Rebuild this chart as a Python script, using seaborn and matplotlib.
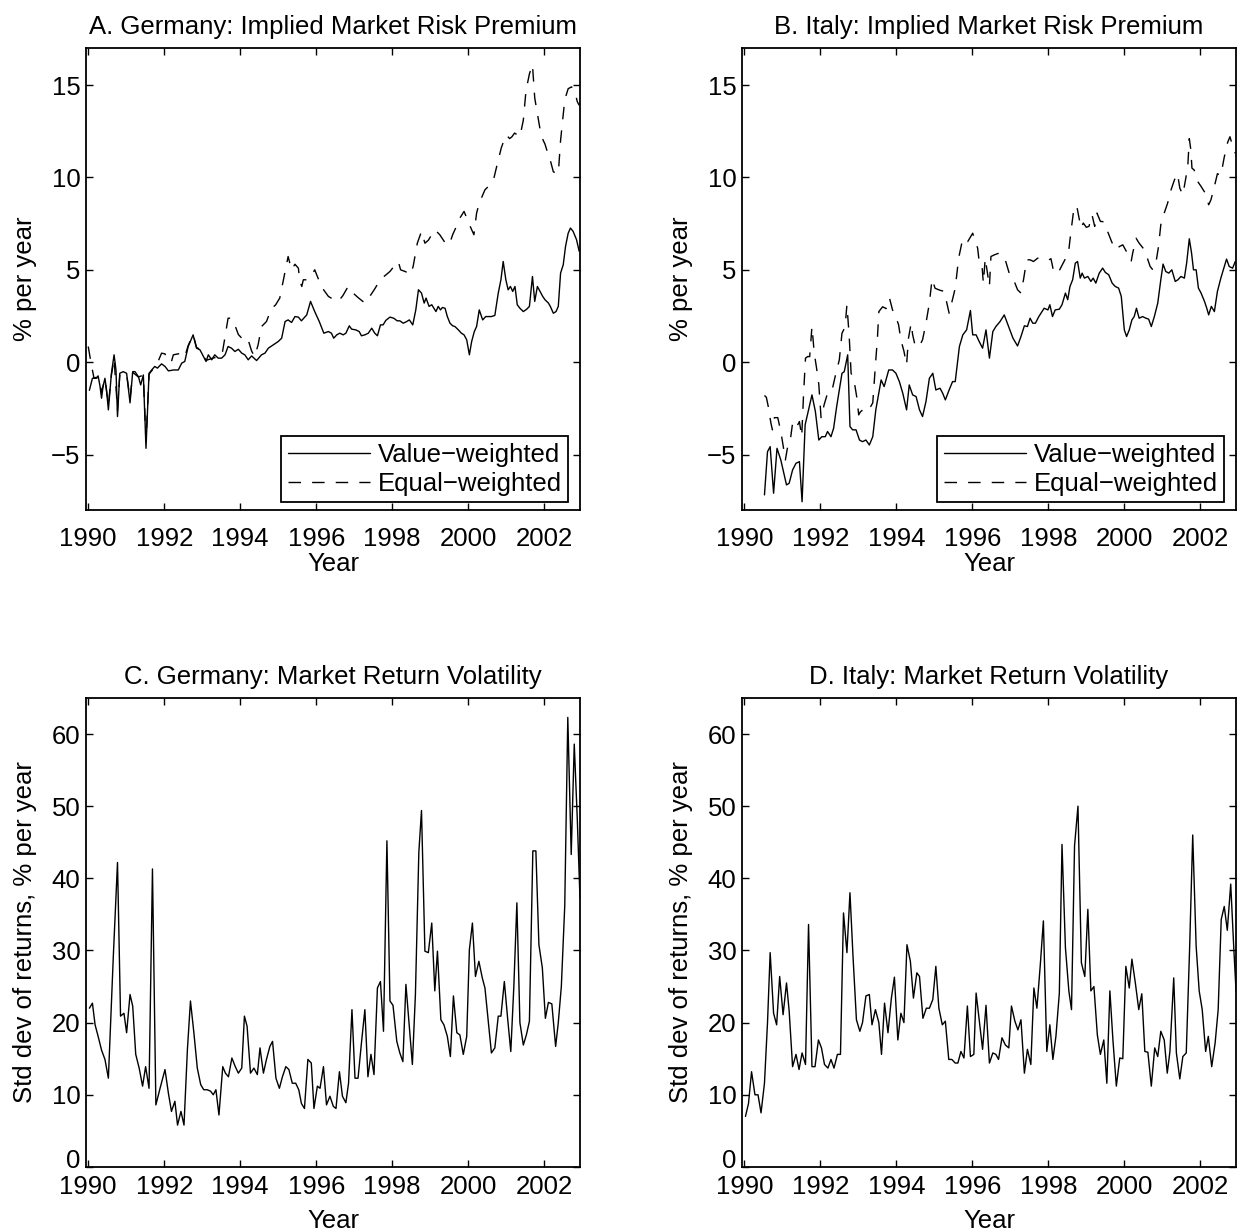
import matplotlib
matplotlib.use('Agg')
import matplotlib.pyplot as plt
import matplotlib.transforms as mtransforms
import seaborn as sns

# Germany implied premium, value-weighted (% per year)
de_vw_year = [1990.03, 1990.11, 1990.22, 1990.26, 1990.31, 1990.35, 1990.39, 1990.44, 1990.48, 1990.53,
              1990.61, 1990.68, 1990.73, 1990.77, 1990.83, 1990.92, 1991.01, 1991.10, 1991.17, 1991.23,
              1991.32, 1991.38, 1991.45, 1991.52, 1991.60, 1991.67, 1991.75, 1991.82, 1991.93, 1992.02,
              1992.11, 1992.24, 1992.37, 1992.46, 1992.54, 1992.63, 1992.76, 1992.85, 1992.94, 1993.03,
              1993.10, 1993.16, 1993.25, 1993.33, 1993.42, 1993.51, 1993.60, 1993.68, 1993.77, 1993.86,
              1993.95, 1994.04, 1994.12, 1994.21, 1994.30, 1994.43, 1994.56, 1994.65, 1994.74, 1994.87,
              1995.00, 1995.09, 1995.18, 1995.26, 1995.35, 1995.44, 1995.53, 1995.61, 1995.75, 1995.85,
              1995.96, 1996.08, 1996.20, 1996.32, 1996.40, 1996.46, 1996.54, 1996.62, 1996.71, 1996.78,
              1996.87, 1996.93, 1997.04, 1997.13, 1997.19, 1997.28, 1997.37, 1997.46, 1997.54, 1997.61,
              1997.69, 1997.76, 1997.83, 1997.94, 1998.04, 1998.13, 1998.20, 1998.29, 1998.38, 1998.45,
              1998.54, 1998.62, 1998.69, 1998.77, 1998.84, 1998.89, 1998.97, 1999.04, 1999.11, 1999.15,
              1999.21, 1999.27, 1999.32, 1999.39, 1999.45, 1999.52, 1999.59, 1999.65, 1999.74, 1999.82,
              1999.89, 1999.96, 2000.03, 2000.09, 2000.16, 2000.22, 2000.29, 2000.38, 2000.46, 2000.53,
              2000.61, 2000.70, 2000.79, 2000.86, 2000.92, 2000.99, 2001.05, 2001.11, 2001.17, 2001.23,
              2001.29, 2001.36, 2001.45, 2001.54, 2001.61, 2001.69, 2001.75, 2001.82, 2001.89, 2001.96,
              2002.02, 2002.11, 2002.16, 2002.24, 2002.31, 2002.37, 2002.43, 2002.50, 2002.56, 2002.63,
              2002.69, 2002.76, 2002.85, 2002.92]
de_vw = [-1.52, -0.87, -0.87, -0.74, -1.30, -1.95, -1.30, -0.87, -1.50, -2.58,
         -0.60, 0.40, -0.42, -2.94, -0.60, -0.51, -0.60, -2.20, -0.51, -0.51,
         -0.78, -1.23, -0.69, -4.66, -0.60, -0.42, -0.23, -0.32, -0.09, -0.23,
         -0.47, -0.42, -0.42, -0.05, 0.04, 0.85, 1.48, 0.76, 0.67, 0.31,
         0.04, 0.40, 0.13, 0.40, 0.22, 0.22, 0.40, 0.85, 0.76, 0.58,
         0.70, 0.49, 0.40, 0.13, 0.34, 0.09, 0.40, 0.49, 0.76, 0.94,
         1.12, 1.30, 2.20, 2.29, 2.15, 2.47, 2.44, 2.24, 2.56, 3.29,
         2.74, 2.20, 1.57, 1.66, 1.57, 1.30, 1.48, 1.57, 1.48, 1.57,
         1.97, 1.79, 1.75, 1.66, 1.43, 1.48, 1.57, 1.84, 1.57, 1.43,
         2.02, 2.02, 2.26, 2.44, 2.38, 2.24, 2.24, 2.11, 2.20, 2.29,
         2.02, 2.83, 3.92, 3.74, 3.20, 3.47, 3.02, 3.11, 2.87, 2.74,
         3.02, 2.83, 2.96, 2.92, 2.47, 2.11, 1.97, 1.93, 1.75, 1.57,
         1.48, 1.21, 0.40, 1.12, 1.66, 1.93, 2.83, 2.29, 2.47, 2.47,
         2.47, 2.53, 3.74, 4.46, 5.45, 4.46, 3.92, 4.10, 3.83, 4.10,
         3.11, 2.92, 2.74, 2.87, 3.02, 4.64, 3.29, 4.10, 3.83, 3.56,
         3.38, 3.20, 3.02, 2.65, 2.74, 3.02, 4.82, 5.27, 6.26, 6.98,
         7.26, 7.08, 6.63, 6.00]

# Germany implied premium, equal-weighted
de_ew_year = [1990.00, 1990.07, 1990.15, 1990.26, 1990.35, 1990.44, 1990.53, 1990.61, 1990.68, 1990.77,
              1990.83, 1990.92, 1991.01, 1991.10, 1991.17, 1991.32, 1991.45, 1991.52, 1991.60, 1991.75,
              1991.84, 1991.93, 1992.02, 1992.11, 1992.19, 1992.24, 1992.46, 1992.54, 1992.63, 1992.76,
              1992.85, 1992.94, 1993.03, 1993.10, 1993.25, 1993.42, 1993.51, 1993.55, 1993.68, 1993.77,
              1993.86, 1993.95, 1994.04, 1994.12, 1994.21, 1994.30, 1994.38, 1994.47, 1994.56, 1994.69,
              1994.82, 1994.93, 1995.04, 1995.15, 1995.26, 1995.35, 1995.44, 1995.53, 1995.57, 1995.62,
              1995.66, 1995.75, 1995.85, 1995.96, 1996.10, 1996.20, 1996.32, 1996.45, 1996.58, 1996.70,
              1996.84, 1996.97, 1997.10, 1997.28, 1997.41, 1997.55, 1997.68, 1997.94, 1998.05, 1998.16,
              1998.22, 1998.35, 1998.48, 1998.55, 1998.66, 1998.77, 1998.86, 1998.95, 1999.04, 1999.12,
              1999.25, 1999.38, 1999.50, 1999.59, 1999.70, 1999.78, 1999.89, 2000.00, 2000.09, 2000.15,
              2000.22, 2000.29, 2000.37, 2000.44, 2000.53, 2000.61, 2000.68, 2000.75, 2000.87, 2000.94,
              2001.00, 2001.09, 2001.15, 2001.22, 2001.36, 2001.45, 2001.52, 2001.61, 2001.69, 2001.75,
              2001.80, 2001.89, 2001.93, 2002.02, 2002.08, 2002.15, 2002.24, 2002.37, 2002.43, 2002.54,
              2002.63, 2002.72, 2002.81, 2002.87, 2002.92]
de_ew = [0.85, 0.00, -0.85, -0.80, -1.60, -0.90, -2.30, -0.70, 0.20, -2.60,
         -0.70, -0.55, -0.65, -2.00, -0.55, -0.80, -0.70, -4.30, -0.65, -0.25,
         0.05, 0.49, 0.45, 0.00, 0.04, 0.40, 0.49, 0.30, 0.90, 1.50,
         0.80, 0.70, 0.35, 0.10, 0.20, 0.30, 0.30, 0.76, 2.38, 2.38,
         2.00, 1.50, 1.30, 1.10, 1.20, 0.60, 0.30, 0.94, 1.93, 2.20,
         2.90, 3.10, 3.47, 4.60, 5.72, 5.00, 5.30, 5.09, 4.37, 4.10,
         4.46, 4.46, 4.60, 5.00, 4.28, 3.90, 3.56, 3.40, 3.29, 3.60,
         4.10, 3.74, 3.50, 3.20, 3.56, 4.00, 4.46, 4.91, 5.20, 5.45,
         5.00, 4.90, 4.73, 5.18, 6.44, 7.08, 6.44, 6.60, 6.90, 7.17,
         6.90, 6.50, 6.35, 6.90, 7.40, 7.80, 8.16, 7.60, 7.17, 6.90,
         8.07, 8.61, 9.00, 9.33, 9.51, 9.69, 10.0, 10.6, 11.6, 12.0,
         12.3, 12.1, 12.2, 12.4, 12.2, 13.1, 14.7, 15.6, 16.1, 14.3,
         13.7, 12.6, 12.2, 11.8, 11.4, 11.0, 10.3, 10.2, 12.0, 14.2,
         14.8, 14.9, 14.6, 14.1, 13.9]

# Italy implied premium, value-weighted
it_vw_year = [1990.53, 1990.61, 1990.68, 1990.77, 1990.86, 1990.96, 1991.11, 1991.18, 1991.27, 1991.36,
              1991.45, 1991.52, 1991.60, 1991.69, 1991.78, 1991.87, 1991.96, 1992.04, 1992.13, 1992.19,
              1992.28, 1992.35, 1992.43, 1992.50, 1992.57, 1992.63, 1992.72, 1992.78, 1992.85, 1992.94,
              1993.03, 1993.11, 1993.20, 1993.29, 1993.38, 1993.46, 1993.60, 1993.68, 1993.80, 1993.90,
              1993.99, 1994.08, 1994.17, 1994.27, 1994.34, 1994.43, 1994.52, 1994.61, 1994.69, 1994.78,
              1994.87, 1994.96, 1995.04, 1995.15, 1995.22, 1995.29, 1995.39, 1995.48, 1995.55, 1995.66,
              1995.75, 1995.85, 1995.95, 1996.01, 1996.10, 1996.18, 1996.27, 1996.36, 1996.45, 1996.54,
              1996.62, 1996.73, 1996.84, 1996.97, 1997.07, 1997.19, 1997.28, 1997.37, 1997.45, 1997.52,
              1997.59, 1997.66, 1997.75, 1997.82, 1997.89, 1997.99, 1998.04, 1998.11, 1998.18, 1998.29,
              1998.36, 1998.45, 1998.51, 1998.57, 1998.64, 1998.71, 1998.77, 1998.84, 1998.89, 1998.95,
              1999.04, 1999.12, 1999.18, 1999.25, 1999.34, 1999.43, 1999.50, 1999.59, 1999.68, 1999.76,
              1999.85, 1999.92, 2000.00, 2000.06, 2000.13, 2000.20, 2000.26, 2000.32, 2000.39, 2000.48,
              2000.57, 2000.64, 2000.71, 2000.79, 2000.88, 2000.96, 2001.02, 2001.09, 2001.17, 2001.25,
              2001.34, 2001.41, 2001.49, 2001.58, 2001.64, 2001.71, 2001.77, 2001.82, 2001.89, 2001.95,
              2002.02, 2002.11, 2002.17, 2002.22, 2002.29, 2002.37, 2002.45, 2002.54, 2002.63, 2002.69,
              2002.76, 2002.85, 2002.92]
it_vw = [-7.18, -4.84, -4.57, -7.09, -4.66, -5.29, -6.64, -6.55, -5.83, -5.47,
         -5.38, -7.55, -3.39, -2.58, -1.77, -2.67, -4.21, -4.03, -4.03, -3.75,
         -4.03, -3.57, -2.40, -1.50, -0.60, -0.51, 0.40, -3.48, -3.66, -3.66,
         -4.21, -4.30, -4.21, -4.48, -4.03, -2.58, -0.96, -1.32, -0.42, -0.42,
         -0.60, -1.05, -1.68, -2.58, -1.23, -1.77, -1.86, -2.58, -2.94, -2.13,
         -0.87, -0.60, -1.50, -1.41, -1.68, -2.04, -1.50, -1.05, -1.05, 0.85,
         1.48, 1.75, 2.80, 1.48, 1.48, 1.12, 0.76, 1.75, 0.22, 1.66,
         1.93, 2.20, 2.56, 1.84, 1.30, 0.88, 1.39, 1.97, 1.93, 2.38,
         2.11, 2.11, 2.47, 2.69, 2.92, 2.83, 3.11, 2.47, 2.83, 2.87,
         3.11, 3.74, 3.38, 4.10, 4.46, 5.36, 5.45, 4.55, 4.82, 4.55,
         4.64, 4.37, 4.55, 4.28, 4.82, 5.09, 4.86, 4.73, 4.28, 4.10,
         4.01, 3.56, 1.75, 1.39, 1.75, 2.29, 2.47, 2.92, 2.38, 2.47,
         2.38, 2.33, 1.93, 2.47, 3.20, 4.46, 5.31, 4.91, 4.82, 5.00,
         4.37, 4.46, 4.64, 4.55, 5.36, 6.68, 5.90, 5.00, 5.00, 4.01,
         3.74, 3.29, 2.92, 2.56, 3.02, 2.74, 3.83, 4.55, 5.18, 5.58,
         5.18, 5.09, 5.45]

# Italy implied premium, equal-weighted
it_ew_year = [1990.53, 1990.58, 1990.63, 1990.70, 1990.74, 1990.79, 1990.88, 1990.96, 1991.02, 1991.08,
              1991.14, 1991.21, 1991.27, 1991.36, 1991.45, 1991.51, 1991.56, 1991.61, 1991.67, 1991.72,
              1991.78, 1991.84, 1991.90, 1991.96, 1992.02, 1992.10, 1992.19, 1992.30, 1992.39, 1992.50,
              1992.57, 1992.65, 1992.70, 1992.76, 1992.81, 1992.88, 1992.96, 1993.01, 1993.05, 1993.16,
              1993.27, 1993.38, 1993.46, 1993.50, 1993.54, 1993.64, 1993.73, 1993.82, 1993.90, 1993.98,
              1994.06, 1994.12, 1994.20, 1994.27, 1994.32, 1994.39, 1994.43, 1994.50, 1994.60, 1994.69,
              1994.78, 1994.87, 1994.94, 1995.02, 1995.14, 1995.26, 1995.39, 1995.55, 1995.64, 1995.75,
              1995.88, 1996.01, 1996.14, 1996.18, 1996.25, 1996.29, 1996.34, 1996.45, 1996.49, 1996.58,
              1996.70, 1996.80, 1996.88, 1996.97, 1997.08, 1997.19, 1997.28, 1997.35, 1997.43, 1997.52,
              1997.61, 1997.72, 1997.85, 1997.98, 1998.07, 1998.15, 1998.30, 1998.45, 1998.53, 1998.59,
              1998.68, 1998.75, 1998.86, 1998.92, 1999.00, 1999.07, 1999.15, 1999.22, 1999.28, 1999.37,
              1999.46, 1999.56, 1999.67, 1999.78, 1999.87, 1999.96, 2000.08, 2000.18, 2000.22, 2000.31,
              2000.39, 2000.53, 2000.68, 2000.75, 2000.83, 2000.90, 2000.96, 2001.05, 2001.14, 2001.23,
              2001.32, 2001.40, 2001.46, 2001.54, 2001.61, 2001.67, 2001.71, 2001.75, 2001.78, 2001.84,
              2001.90, 2002.02, 2002.13, 2002.22, 2002.28, 2002.37, 2002.45, 2002.54, 2002.63, 2002.72,
              2002.78, 2002.85, 2002.92]
it_ew = [-1.80, -1.90, -2.40, -3.30, -3.66, -3.00, -3.00, -3.75, -4.50, -5.29,
         -4.57, -4.21, -3.30, -3.57, -3.21, -4.03, -1.68, 0.22, 0.31, 0.30,
         1.93, 0.49, -0.30, -1.20, -3.03, -2.30, -1.68, -1.60, -0.78, 0.13,
         1.57, 1.90, 3.10, 1.40, -0.60, -0.90, -1.90, -2.85, -2.70, -2.50,
         -2.60, -2.20, 0.13, 1.20, 2.74, 3.00, 2.90, 3.47, 2.83, 2.50,
         2.02, 1.21, 0.60, -0.14, 1.30, 2.11, 1.48, 0.85, 0.85, 1.21,
         2.11, 3.20, 4.50, 4.00, 3.90, 3.83, 2.65, 4.00, 5.63, 6.71,
         6.53, 6.98, 6.17, 5.45, 5.36, 4.28, 5.63, 4.10, 5.72, 5.81,
         5.90, 5.80, 5.45, 4.82, 4.50, 3.92, 3.74, 4.50, 5.54, 5.54,
         5.45, 5.63, 5.60, 5.50, 5.60, 4.80, 5.00, 5.60, 5.90, 6.98,
         8.43, 8.43, 7.26, 7.53, 7.30, 7.35, 7.98, 7.35, 8.07, 7.62,
         7.60, 7.08, 6.50, 6.08, 6.26, 6.35, 5.90, 5.45, 5.90, 6.71,
         6.44, 6.08, 5.18, 5.00, 5.36, 6.26, 7.44, 8.07, 8.61, 9.33,
         9.87, 10.2, 9.42, 9.06, 9.87, 10.6, 12.1, 11.5, 10.5, 10.4,
         9.87, 9.51, 9.15, 8.52, 8.79, 9.51, 10.2, 10.1, 11.1, 11.9,
         12.2, 11.7, 11.3]

# Germany market return volatility (std dev, % per year)
de_vol_year = [1990.03, 1990.11, 1990.18, 1990.26, 1990.35, 1990.44, 1990.53, 1990.66, 1990.77, 1990.85,
               1990.94, 1991.01, 1991.10, 1991.17, 1991.25, 1991.34, 1991.43, 1991.51, 1991.60, 1991.69,
               1991.78, 1991.89, 1992.02, 1992.11, 1992.19, 1992.28, 1992.35, 1992.44, 1992.52, 1992.61,
               1992.69, 1992.78, 1992.87, 1992.96, 1993.04, 1993.13, 1993.22, 1993.29, 1993.36, 1993.44,
               1993.54, 1993.61, 1993.69, 1993.78, 1993.87, 1993.95, 1994.04, 1994.11, 1994.18, 1994.27,
               1994.36, 1994.45, 1994.52, 1994.61, 1994.69, 1994.78, 1994.85, 1994.94, 1995.03, 1995.11,
               1995.20, 1995.28, 1995.37, 1995.46, 1995.54, 1995.61, 1995.69, 1995.78, 1995.87, 1995.94,
               1996.03, 1996.10, 1996.19, 1996.27, 1996.36, 1996.45, 1996.52, 1996.61, 1996.69, 1996.78,
               1996.85, 1996.94, 1997.02, 1997.10, 1997.19, 1997.28, 1997.36, 1997.44, 1997.52, 1997.61,
               1997.69, 1997.77, 1997.86, 1997.94, 1998.02, 1998.12, 1998.20, 1998.28, 1998.36, 1998.45,
               1998.53, 1998.61, 1998.70, 1998.77, 1998.86, 1998.95, 1999.04, 1999.12, 1999.19, 1999.28,
               1999.36, 1999.45, 1999.53, 1999.61, 1999.70, 1999.78, 1999.87, 1999.96, 2000.03, 2000.11,
               2000.19, 2000.28, 2000.37, 2000.44, 2000.53, 2000.61, 2000.70, 2000.79, 2000.86, 2000.95,
               2001.04, 2001.12, 2001.20, 2001.28, 2001.36, 2001.45, 2001.53, 2001.61, 2001.70, 2001.78,
               2001.86, 2001.95, 2002.03, 2002.11, 2002.20, 2002.30, 2002.37, 2002.45, 2002.54, 2002.62,
               2002.71, 2002.79, 2002.87, 2002.94]
de_vol = [22.0, 22.7, 19.7, 18.1, 16.2, 14.9, 12.3, 29.2, 42.2, 20.9,
          21.3, 18.6, 23.9, 22.3, 15.6, 13.7, 11.2, 13.9, 10.9, 41.3,
          8.6, 10.9, 13.5, 10.2, 7.7, 9.1, 5.8, 7.7, 5.8, 16.3,
          23.0, 18.6, 13.7, 11.4, 10.7, 10.7, 10.5, 10.0, 10.7, 7.2,
          13.9, 13.0, 12.5, 15.1, 13.9, 13.0, 13.7, 20.9, 19.5, 13.0,
          13.7, 12.8, 16.5, 13.0, 14.9, 16.7, 17.4, 12.3, 10.9, 12.5,
          13.9, 13.5, 11.6, 11.6, 10.7, 8.8, 8.1, 14.9, 14.4, 8.1,
          11.2, 10.9, 13.9, 8.6, 9.8, 8.4, 8.1, 13.2, 9.8, 8.9,
          11.6, 21.8, 12.3, 12.3, 17.2, 21.8, 12.5, 15.6, 12.8, 24.8,
          25.7, 18.8, 45.2, 23.0, 22.4, 17.4, 15.8, 14.6, 25.3, 19.5,
          14.2, 23.9, 43.6, 49.4, 29.9, 29.7, 33.8, 24.4, 29.9, 20.4,
          19.7, 18.1, 15.3, 23.7, 18.6, 18.3, 15.6, 18.1, 30.1, 33.8,
          26.4, 28.5, 26.2, 24.8, 20.0, 15.8, 16.5, 20.9, 20.9, 25.7,
          20.4, 16.0, 25.0, 36.6, 20.0, 16.9, 18.3, 20.2, 43.8, 43.8,
          30.8, 27.6, 20.6, 22.8, 22.6, 16.7, 20.0, 25.0, 36.2, 62.3,
          43.3, 58.6, 48.2, 37.3]

# Italy market return volatility
it_vol_year = [1990.03, 1990.11, 1990.19, 1990.28, 1990.36, 1990.44, 1990.53, 1990.61, 1990.68, 1990.77,
               1990.85, 1990.93, 1991.02, 1991.11, 1991.18, 1991.27, 1991.36, 1991.44, 1991.52, 1991.61,
               1991.69, 1991.78, 1991.86, 1991.95, 1992.03, 1992.11, 1992.20, 1992.28, 1992.36, 1992.45,
               1992.53, 1992.61, 1992.70, 1992.78, 1992.86, 1992.95, 1993.04, 1993.11, 1993.20, 1993.29,
               1993.36, 1993.45, 1993.54, 1993.61, 1993.69, 1993.78, 1993.87, 1993.95, 1994.04, 1994.12,
               1994.20, 1994.28, 1994.37, 1994.45, 1994.54, 1994.61, 1994.70, 1994.79, 1994.87, 1994.96,
               1995.04, 1995.12, 1995.21, 1995.29, 1995.38, 1995.46, 1995.55, 1995.62, 1995.70, 1995.78,
               1995.87, 1995.95, 1996.04, 1996.10, 1996.18, 1996.27, 1996.36, 1996.45, 1996.54, 1996.62,
               1996.69, 1996.78, 1996.87, 1996.96, 1997.03, 1997.12, 1997.20, 1997.28, 1997.37, 1997.45,
               1997.54, 1997.62, 1997.70, 1997.79, 1997.87, 1997.96, 1998.04, 1998.12, 1998.20, 1998.29,
               1998.36, 1998.45, 1998.54, 1998.61, 1998.69, 1998.78, 1998.87, 1998.96, 1999.04, 1999.12,
               1999.20, 1999.29, 1999.37, 1999.46, 1999.54, 1999.62, 1999.70, 1999.79, 1999.88, 1999.96,
               2000.04, 2000.13, 2000.20, 2000.29, 2000.38, 2000.46, 2000.54, 2000.62, 2000.71, 2000.80,
               2000.88, 2000.96, 2001.05, 2001.13, 2001.20, 2001.30, 2001.37, 2001.46, 2001.54, 2001.63,
               2001.72, 2001.80, 2001.89, 2001.97, 2002.05, 2002.14, 2002.21, 2002.30, 2002.39, 2002.47,
               2002.55, 2002.63, 2002.71, 2002.80, 2002.88, 2002.94]
it_vol = [7.0, 8.8, 13.2, 10.0, 10.0, 7.5, 11.6, 20.0, 29.7, 21.3,
          19.7, 26.4, 21.1, 25.5, 21.6, 13.9, 15.6, 13.5, 15.8, 14.2,
          33.6, 13.9, 13.9, 17.6, 16.5, 14.2, 13.7, 14.9, 13.7, 15.6,
          15.6, 35.2, 29.7, 38.0, 29.2, 20.4, 18.8, 20.0, 23.7, 23.9,
          19.7, 21.8, 20.0, 15.6, 22.7, 18.6, 23.4, 26.3, 17.6, 21.3,
          20.0, 30.8, 28.5, 23.4, 26.9, 26.4, 20.6, 22.0, 22.0, 23.2,
          27.8, 22.0, 19.7, 20.2, 14.9, 14.9, 14.4, 14.4, 16.0, 15.1,
          22.3, 15.3, 15.6, 24.1, 20.4, 16.3, 22.4, 14.4, 15.8, 15.6,
          14.9, 17.9, 16.9, 16.5, 22.3, 20.2, 19.0, 20.4, 13.0, 16.3,
          14.2, 24.8, 22.0, 28.1, 34.1, 16.0, 19.7, 14.9, 18.1, 24.1,
          44.7, 30.4, 24.4, 21.8, 44.5, 50.0, 28.3, 26.4, 35.7, 24.4,
          25.0, 18.3, 15.6, 17.6, 11.6, 24.4, 17.6, 11.2, 15.1, 15.0,
          27.8, 24.8, 28.8, 25.5, 21.8, 24.0, 16.0, 15.9, 11.2, 16.5,
          15.3, 18.8, 17.6, 13.0, 16.0, 26.2, 15.8, 12.2, 15.3, 15.8,
          30.6, 46.0, 30.6, 24.4, 21.8, 16.0, 18.1, 13.9, 17.2, 21.8,
          34.3, 36.1, 32.8, 39.2, 30.4, 24.4]

titles = ['A. Germany: Implied Market Risk Premium', 'B. Italy: Implied Market Risk Premium',
          'C. Germany: Market Return Volatility', 'D. Italy: Market Return Volatility']
year_ticks = [1990, 1992, 1994, 1996, 1998, 2000, 2002]
premium_ticks = [-5, 0, 5, 10, 15]
vol_ticks = [0, 10, 20, 30, 40, 50, 60]
vw_label = 'Value\u2212weighted'
ew_label = 'Equal\u2212weighted'

sns.set_style('ticks')
plt.rcParams['font.family'] = ['Liberation Sans', 'DejaVu Sans']
plt.rcParams['axes.linewidth'] = 1.3
for key in ['text.color', 'axes.labelcolor', 'xtick.color', 'ytick.color', 'axes.edgecolor']:
    plt.rcParams[key] = 'black'

fs = 18.5
fig = plt.figure(figsize=(12.44, 12.32), dpi=100)
positions = [[0.0691, 0.586, 0.3971, 0.375], [0.5965, 0.586, 0.3971, 0.375],
             [0.0691, 0.0528, 0.3971, 0.3807], [0.5965, 0.0528, 0.3971, 0.3807]]
axes = [fig.add_axes(p) for p in positions]

premium_data = [(de_vw_year, de_vw, de_ew_year, de_ew), (it_vw_year, it_vw, it_ew_year, it_ew)]
vol_data = [(de_vol_year, de_vol), (it_vol_year, it_vol)]

for ax, title in zip(axes, titles):
    ax.set_xlim(1989.94, 2002.94)
    ax.set_xticks(year_ticks)
    ax.set_title(title, fontsize=fs, pad=10)
    ax.set_xlabel('Year', fontsize=fs)
    ax.tick_params(direction='in', top=True, right=True, length=5, width=1.0,
                   labelsize=fs, color='black')
    ax.tick_params(axis='y', pad=4)

# top row: implied premium
for ax, (vx, vy, ex, ey) in zip(axes[:2], premium_data):
    sns.lineplot(x=vx, y=vy, ax=ax, color='black', linewidth=1.0, label=vw_label,
                 estimator=None, sort=False)
    sns.lineplot(x=ex, y=ey, ax=ax, color='black', linewidth=1.0, label=ew_label,
                 estimator=None, sort=False)
    ax.lines[-1].set_dashes((9, 8))
    ax.set_ylim(-8, 17)
    ax.set_yticks(premium_ticks)
    ax.set_ylabel('% per year', fontsize=fs)
    ax.tick_params(axis='x', pad=12)
    ax.xaxis.set_label_coords(0.5, -0.09)
    ax.yaxis.set_label_coords(-0.10, 0.5)
    leg = ax.legend(loc='lower right', bbox_to_anchor=(0.976, 0.017), borderaxespad=0,
                    fontsize=fs, fancybox=False, framealpha=1, edgecolor='black',
                    handlelength=3.2, handletextpad=0.3, borderpad=0.25, labelspacing=0.2)
    leg.get_frame().set_linewidth(1.3)
    leg.get_lines()[1].set_dashes((9, 8))

# bottom row: volatility
for ax, (x, y) in zip(axes[2:], vol_data):
    sns.lineplot(x=x, y=y, ax=ax, color='black', linewidth=1.0, estimator=None, sort=False)
    ax.set_ylim(0, 65)
    ax.set_yticks(vol_ticks)
    ax.set_ylabel('Std dev of returns, % per year', fontsize=fs)
    ax.tick_params(axis='x', pad=6)
    ax.xaxis.set_label_coords(0.5, -0.09)
    ax.yaxis.set_label_coords(-0.10, 0.5)
    # lift the "0" label a little so it clears the year labels below it
    zero_label = ax.yaxis.get_major_ticks()[0].label1
    zero_label.set_transform(zero_label.get_transform() +
                             mtransforms.ScaledTranslation(0, 6 / 72, fig.dpi_scale_trans))

fig.savefig('out.png', dpi=100, facecolor='white')
